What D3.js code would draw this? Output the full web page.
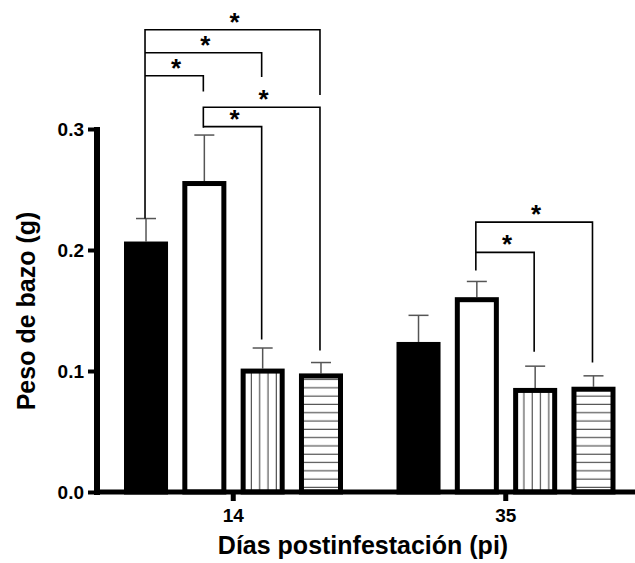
<!DOCTYPE html>
<html>
<head>
<meta charset="utf-8">
<script src="https://cdn.jsdelivr.net/npm/d3@7"></script>
<style>
  body { margin: 0; background: #fff; }
  svg { display: block; font-family: "Liberation Sans", Arial, sans-serif; font-weight: bold; }
</style>
</head>
<body>
<svg id="chart"></svg>
<script>
const days = ["14", "35"];
const groups = ["g1", "g2", "g3", "g4"];
const means = [
  [0.207, 0.257, 0.102, 0.098],
  [0.124, 0.161, 0.086, 0.087]
];
const errors = [
  [0.019, 0.038, 0.017, 0.009],
  [0.022, 0.013, 0.018, 0.009]
];
const yTicks = [0, 0.1, 0.2, 0.3];
// brackets: day, from bar, to bar, level, left leg end, right leg end
const brackets = [
  ["14", 0, 3, 0.382, 0.226, 0.328],
  ["14", 0, 2, 0.363, 0.363, 0.343],
  ["14", 0, 1, 0.344, 0.344, 0.331],
  ["14", 1, 3, 0.318, 0.301, 0.117],
  ["14", 1, 2, 0.302, 0.302, 0.126],
  ["35", 1, 3, 0.223, 0.183, 0.107],
  ["35", 1, 2, 0.198, 0.198, 0.116]
];

const width = 635, height = 563;
const svg = d3.select("#chart").attr("width", width).attr("height", height);

const x0 = d3.scaleBand().domain(days).range([97, 642]);
const x1 = d3.scaleBand().domain(d3.range(groups.length)).range([27, 246]).paddingInner(0.245);
const y = d3.scaleLinear().domain([0, 0.3]).range([492, 129]);

const defs = svg.append("defs");
const vp = defs.append("pattern").attr("id", "vert").attr("patternUnits", "userSpaceOnUse")
  .attr("width", 8.3).attr("height", 10).attr("x", 1);
vp.append("rect").attr("width", 8.3).attr("height", 10).attr("fill", "#fff");
vp.append("line").attr("x1", 4).attr("x2", 4).attr("y1", 0).attr("y2", 10)
  .attr("stroke", "#444").attr("stroke-width", 1.1);
const hp = defs.append("pattern").attr("id", "horiz").attr("patternUnits", "userSpaceOnUse")
  .attr("width", 10).attr("height", 8.3).attr("y", 2);
hp.append("rect").attr("width", 10).attr("height", 8.3).attr("fill", "#fff");
hp.append("line").attr("x1", 0).attr("x2", 10).attr("y1", 4).attr("y2", 4)
  .attr("stroke", "#444").attr("stroke-width", 1.1);

const fills = ["#000", "#fff", "url(#vert)", "url(#horiz)"];
const sw = 5;

days.forEach((day, di) => {
  const g = svg.append("g").attr("transform", `translate(${x0(day)},0)`);
  const bw = x1.bandwidth();

  // error bars
  g.selectAll(".err").data(means[di]).enter().append("g").each(function(v, i) {
    const cx = x1(i) + bw / 2;
    const top = y(v + errors[di][i]);
    const e = d3.select(this);
    e.append("line").attr("x1", cx).attr("x2", cx).attr("y1", y(v)).attr("y2", top)
      .attr("stroke", "#555").attr("stroke-width", 1.5);
    e.append("line").attr("x1", cx - 10).attr("x2", cx + 10).attr("y1", top).attr("y2", top)
      .attr("stroke", "#555").attr("stroke-width", 1.5);
  });

  g.selectAll("rect").data(means[di]).enter().append("rect")
    .attr("x", (d, i) => x1(i) + sw / 2)
    .attr("width", bw - sw)
    .attr("y", d => y(d) + sw / 2)
    .attr("height", d => y(0) - y(d) - sw / 2)
    .attr("fill", (d, i) => fills[i])
    .attr("stroke", "#000")
    .attr("stroke-width", sw);
});

// significance brackets
const bg = svg.append("g");
brackets.forEach(b => {
  const [day, from, to, level, le, re] = b;
  const xa = x0(day) + x1(from) + x1.bandwidth() / 2 - 1;
  const xb = x0(day) + x1(to) + x1.bandwidth() / 2 - 1;
  bg.append("path")
    .attr("d", `M${xa},${y(le)}V${y(level)}H${xb}V${y(re)}`)
    .attr("fill", "none").attr("stroke", "#000").attr("stroke-width", 1.6);
  bg.append("text")
    .attr("x", (xa + xb) / 2 + 2)
    .attr("y", y(level) + 1)
    .attr("text-anchor", "middle")
    .style("font-size", "26px")
    .text("*");
});

// axes
const yAxis = svg.append("g").attr("transform", "translate(97,0)")
  .call(d3.axisLeft(y).tickValues(yTicks).tickFormat(d3.format(".1f")).tickSize(9).tickSizeOuter(0).tickPadding(4));
yAxis.select(".domain").attr("stroke-width", 6).attr("d", `M0,${y(0.3) - 2}V${y(0) + 3}`);
yAxis.selectAll(".tick line").attr("stroke-width", 4);
yAxis.selectAll(".tick text").style("font-size", "19px").style("font-weight", "bold").attr("fill", "#000")
  .style("font-family", "Liberation Sans, Arial, sans-serif");

const xAxis = svg.append("g").attr("transform", "translate(0,492)")
  .call(d3.axisBottom(x0).tickSize(9).tickSizeOuter(0).tickPadding(8));
xAxis.select(".domain").attr("stroke-width", 5).attr("d", "M94,0H642");
xAxis.selectAll(".tick line").attr("stroke-width", 5);
xAxis.selectAll(".tick text").style("font-size", "19px").style("font-weight", "bold").attr("fill", "#000")
  .style("font-family", "Liberation Sans, Arial, sans-serif");

svg.append("text")
  .attr("x", 363).attr("y", 554)
  .attr("text-anchor", "middle")
  .style("font-size", "25px")
  .text("Días postinfestación (pi)");

svg.append("text")
  .attr("transform", "translate(35,311) rotate(-90)")
  .attr("text-anchor", "middle")
  .style("font-size", "25px")
  .text("Peso de bazo (g)");
</script>
</body>
</html>
